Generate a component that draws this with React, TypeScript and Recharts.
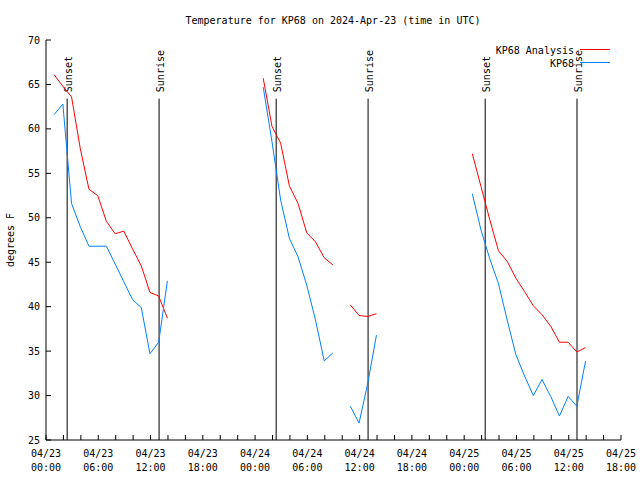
import React from 'react';
import { LineChart, Line, XAxis, YAxis, ReferenceLine } from 'recharts';

const FONT = '"DejaVu Sans Mono", monospace';

// axis labels
const dayLabels = ['04/23', '04/24', '04/25'];
const clockLabels = ['00:00', '06:00', '12:00', '18:00'];
const yTicks = [25, 30, 35, 40, 45, 50, 55, 60, 65, 70];

// hourly obs, hour index n => reported at (n-1):56 UTC from 04/23 00:00
const OBS_MINUTE = 56;
const obsHours = [
  1, 2, 3, 4, 5, 6, 7, 8, 9, 10, 11, 12, 13, 14,
  25, 26, 27, 28, 29, 30, 31, 32, 33,
  35, 36, 37, 38,
  49, 50, 51, 52, 53, 54, 55, 56, 57, 58, 59, 60, 61, 62,
];
const analysisTemps = [
  66.1, 64.8, 63.6, 57.8, 53.2, 52.5, 49.6, 48.2, 48.5, 46.5, 44.6, 41.6, 41.2, 38.7,
  65.7, 60.3, 58.4, 53.6, 51.6, 48.3, 47.3, 45.5, 44.7,
  40.2, 39.0, 38.9, 39.2,
  57.2, 53.5, 49.8, 46.3, 45.1, 43.2, 41.7, 40.1, 39.1, 37.8, 36.0, 36.0, 34.9, 35.4,
];
const observedTemps = [
  61.6, 62.8, 51.6, 49.0, 46.8, 46.8, 46.8, 44.8, 42.8, 40.8, 39.9, 34.7, 36.0, 42.9,
  64.7, 58.6, 52.0, 47.7, 45.6, 42.4, 38.5, 33.9, 34.8,
  28.8, 26.9, 31.4, 36.8,
  52.7, 48.6, 45.4, 42.6, 38.5, 34.6, 32.2, 30.0, 31.8, 29.9, 27.7, 29.9, 28.8, 33.9,
];

// hours since 04/23 00:00 UTC
const sunsetHours = [2.43, 26.42, 50.41];
const sunriseHours = [12.98, 36.97, 60.95];
const SUN_LINE_TOP = 63.4;

const RED = '#ff0000';
const BLUE = '#0080ff';

const rows: { t: number; analysis: number | null; observed: number | null }[] = [];
obsHours.forEach((h, i) => {
  // break the lines where hours are missing
  if (i > 0 && h - obsHours[i - 1] > 1) {
    rows.push({ t: h - 1.5, analysis: null, observed: null });
  }
  rows.push({ t: h - 1 + OBS_MINUTE / 60, analysis: analysisTemps[i], observed: observedTemps[i] });
});

const xTicks = Array.from({ length: 34 }, (_, i) => i * 2);

const XTick = (props: any) => {
  const { x, y, payload } = props;
  const h = payload.value as number;
  if (h % 6 !== 0) return null;
  const day = dayLabels[Math.floor(h / 24)];
  const clock = clockLabels[(h % 24) / 6];
  return (
    <text x={x} y={y} textAnchor="middle" fontSize={10} fontFamily={FONT} fill="#000">
      <tspan x={x} dy={22}>{day}</tspan>
      <tspan x={x} dy={13.5}>{clock}</tspan>
    </text>
  );
};

const sunLabel = (text: string) => (props: any) => {
  const { x, y } = props.viewBox;
  const bx = x + 5;
  const by = y - 6.5;
  return (
    <text x={bx} y={by} transform={`rotate(-90 ${bx} ${by})`} fontSize={10} fontFamily={FONT} fill="#000">
      {text}
    </text>
  );
};

const legendItems = [
  { name: 'KP68 Analysis', color: RED },
  { name: 'KP68', color: BLUE },
];

export default function App() {
  return (
    <div style={{ position: 'absolute', left: 0, top: 0, width: 640, height: 480, background: '#fff' }}>
      <LineChart width={640} height={480} data={rows} margin={{ top: 40, right: 19, bottom: 0, left: 0 }}>
        <XAxis
          xAxisId="b"
          dataKey="t"
          type="number"
          domain={[0, 66]}
          ticks={xTicks}
          interval={0}
          height={40}
          tickSize={-5}
          tickMargin={0}
          tick={<XTick />}
          stroke="#000"
        />
        <XAxis
          xAxisId="t"
          orientation="top"
          dataKey="t"
          type="number"
          domain={[0, 66]}
          ticks={xTicks}
          interval={0}
          height={0}
          tickSize={-5}
          tick={false}
          stroke="#000"
        />
        <YAxis
          yAxisId="l"
          type="number"
          domain={[25, 70]}
          ticks={yTicks}
          interval={0}
          width={46}
          tickSize={-5}
          tickMargin={11}
          tick={{ fill: '#000', fontSize: 10, fontFamily: FONT }}
          stroke="#000"
        />
        <YAxis
          yAxisId="r"
          orientation="right"
          type="number"
          domain={[25, 70]}
          ticks={yTicks}
          interval={0}
          width={0}
          tickSize={-5}
          tick={false}
          stroke="#000"
        />
        {sunsetHours.map((t) => (
          <ReferenceLine
            key={`ss-${t}`}
            xAxisId="b"
            yAxisId="l"
            segment={[{ x: t, y: SUN_LINE_TOP }, { x: t, y: 25 }]}
            stroke="#000"
            label={sunLabel('Sunset')}
          />
        ))}
        {sunriseHours.map((t) => (
          <ReferenceLine
            key={`sr-${t}`}
            xAxisId="b"
            yAxisId="l"
            segment={[{ x: t, y: SUN_LINE_TOP }, { x: t, y: 25 }]}
            stroke="#000"
            label={sunLabel('Sunrise')}
          />
        ))}
        <Line
          xAxisId="b"
          yAxisId="l"
          type="linear"
          dataKey="analysis"
          name="KP68 Analysis"
          stroke={RED}
          strokeWidth={1}
          dot={false}
          connectNulls={false}
          isAnimationActive={false}
        />
        <Line
          xAxisId="b"
          yAxisId="l"
          type="linear"
          dataKey="observed"
          name="KP68"
          stroke={BLUE}
          strokeWidth={1}
          dot={false}
          connectNulls={false}
          isAnimationActive={false}
        />
      </LineChart>
      <svg
        width={640}
        height={480}
        style={{ position: 'absolute', left: 0, top: 0, pointerEvents: 'none' }}
        fontFamily={FONT}
        fontSize={10}
      >
        <text x={333} y={23.5} textAnchor="middle" fill="#000">
          Temperature for KP68 on 2024-Apr-23 (time in UTC)
        </text>
        <text x={13.5} y={240} textAnchor="middle" transform="rotate(-90 13.5 240)" fill="#000">
          degrees F
        </text>
        {legendItems.map((item, i) => (
          <g key={item.name}>
            <text x={574} y={53.5 + i * 13} textAnchor="end" fill="#000">
              {item.name}
            </text>
            <line x1={580} x2={610} y1={49.5 + i * 13} y2={49.5 + i * 13} stroke={item.color} strokeWidth={1} />
          </g>
        ))}
      </svg>
    </div>
  );
}
